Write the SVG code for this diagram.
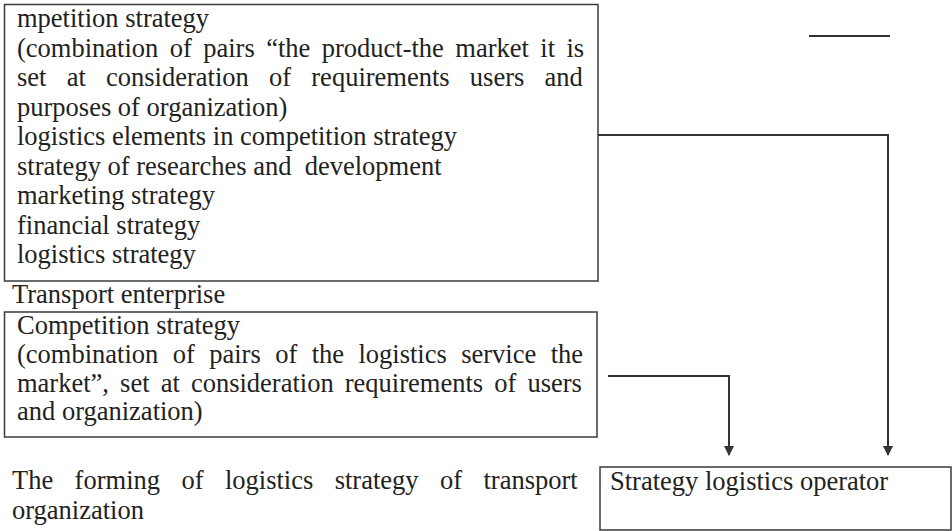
<svg xmlns="http://www.w3.org/2000/svg" width="952" height="531" viewBox="0 0 952 531">
  <style>
    .box { fill: #ffffff; stroke: #3a3a3a; stroke-width: 1.5; }
    .txt { font-family: "Liberation Serif", "Times New Roman", serif; font-size: 26.5px; fill: #222222; }
    .wire { fill: none; stroke: #333333; stroke-width: 2; }
  </style>
  <defs>
    <marker id="arrow" viewBox="0 0 10 10" refX="9" refY="5" markerWidth="5" markerHeight="5" orient="auto" markerUnits="strokeWidth">
      <path d="M0,0 L10,5 L0,10 z" fill="#333333"/>
    </marker>
  </defs>
  <rect width="952" height="531" fill="#ffffff"/>

  <!-- enterprise strategies -->
  <g id="enterprise-strategies">
    <rect class="box" x="4.5" y="4.5" width="593.5" height="276.5"/>
    <text class="txt" x="17" y="27">mpetition strategy</text>
    <text class="txt" x="17" y="56.5" word-spacing="4.8">(combination of pairs “the product-the market it is</text>
    <text class="txt" x="17" y="86" word-spacing="13.6">set at consideration of requirements users and</text>
    <text class="txt" x="17" y="115.5">purposes of organization)</text>
    <text class="txt" x="17" y="145">logistics elements in competition strategy</text>
    <text class="txt" x="17" y="174.5" xml:space="preserve">strategy of researches and  development</text>
    <text class="txt" x="17" y="204">marketing strategy</text>
    <text class="txt" x="17" y="233.5">financial strategy</text>
    <text class="txt" x="17" y="263">logistics strategy</text>
  </g>

  <g id="transport-enterprise-label">
    <text class="txt" x="12" y="303">Transport enterprise</text>
  </g>

  <!-- transport competition strategy -->
  <g id="transport-competition">
    <rect class="box" x="4.5" y="312" width="592.5" height="125"/>
    <text class="txt" x="17" y="334">Competition strategy</text>
    <text class="txt" x="17" y="363" word-spacing="7.8">(combination of pairs of the logistics service the</text>
    <text class="txt" x="17" y="391.5" word-spacing="4.5">market”, set at consideration requirements of users</text>
    <text class="txt" x="17" y="420">and organization)</text>
  </g>

  <g id="caption">
    <text class="txt" x="12" y="489" word-spacing="14.8">The forming of logistics strategy of transport</text>
    <text class="txt" x="12" y="518.5">organization</text>
  </g>

  <g id="logistics-operator">
    <rect class="box" x="600" y="467" width="351" height="63"/>
    <text class="txt" x="610" y="490">Strategy logistics operator</text>
  </g>

  <g id="connectors">
    <line class="wire" x1="809" y1="36" x2="890" y2="36"/>
    <polyline class="wire" points="598,135 888,135 888,455" marker-end="url(#arrow)"/>
    <polyline class="wire" points="608,376 729,376 729,455" marker-end="url(#arrow)"/>
  </g>
</svg>
